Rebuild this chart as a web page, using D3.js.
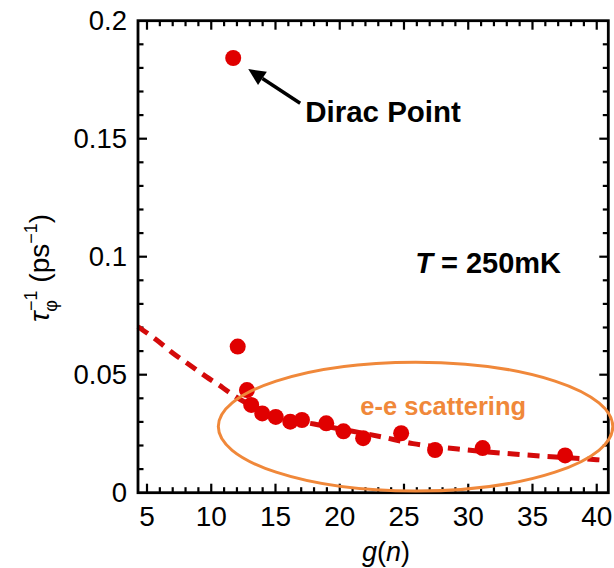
<!DOCTYPE html>
<html>
<head>
<meta charset="utf-8">
<script src="https://cdn.jsdelivr.net/npm/d3@7"></script>
<style>
    body { margin: 0; background: #fff; }
    svg { display: block; font-family: "Liberation Sans", Arial, sans-serif; }
</style>
</head>
<body>
<svg id="chart" width="614" height="568"></svg>
<script>
// measured points: g(n) and dephasing rate (ps^-1)
const gValues = [11.71, 12.06, 12.78, 13.11, 13.97, 15.02, 16.15, 17.06, 18.95, 20.29, 21.82, 24.78, 27.42, 31.12, 37.54];
const rateValues = [0.1842, 0.0619, 0.0435, 0.0372, 0.0336, 0.0321, 0.0301, 0.0308, 0.0294, 0.0260, 0.0231, 0.0252, 0.0181, 0.0189, 0.0158];

// fitted curve
const fitG = [4.3, 5.75, 7.05, 8.35, 9.6, 10.9, 11.8, 13, 14, 15, 16, 17, 18, 20, 22, 23.3, 25.7, 29.2, 33.5, 35.8, 40, 40.9];
const fitRate = [0.0703, 0.0647, 0.0590, 0.0540, 0.0492, 0.0445, 0.0410, 0.0372, 0.0345, 0.0325, 0.0310, 0.0300, 0.0291, 0.0270, 0.0250, 0.0236, 0.0208, 0.0185, 0.0164, 0.0155, 0.0140, 0.0136];

const xTickLabels = [5, 10, 15, 20, 25, 30, 35, 40];
const yTickLabels = [0, 0.05, 0.1, 0.15, 0.2];

const width = 614, height = 568;
const margin = {top: 20.7, right: 5.7, bottom: 75.3, left: 138};

const svg = d3.select('#chart');

const x = d3.scaleLinear()
    .domain([4.3, 40.9])
    .range([margin.left, width - margin.right]);

const y = d3.scaleLinear()
    .domain([0, 0.2])
    .range([height - margin.bottom, margin.top]);

const red = "#e00000";
const orange = "#f0883a";

// ticks: minor every 1 / 0.01, major every 5 / 0.05, all pointing inward
const xMinor = d3.range(5, 41, 1).filter(d => d % 5 !== 0);
const yMinor = d3.range(0.01, 0.2, 0.01).filter(d => Math.abs(d * 20 - Math.round(d * 20)) > 1e-6);

function drawTicks(g, scale, values, len, side) {
    g.selectAll(null)
        .data(values)
        .enter()
        .append('line')
        .attr('stroke', '#000')
        .attr('stroke-width', 2.2)
        .each(function (d) {
            let sel = d3.select(this);
            let p = scale(d);
            if (side === 'bottom') {
                sel.attr('x1', p).attr('x2', p).attr('y1', y.range()[0]).attr('y2', y.range()[0] - len);
            } else if (side === 'top') {
                sel.attr('x1', p).attr('x2', p).attr('y1', y.range()[1]).attr('y2', y.range()[1] + len);
            } else if (side === 'left') {
                sel.attr('y1', p).attr('y2', p).attr('x1', x.range()[0]).attr('x2', x.range()[0] + len);
            } else {
                sel.attr('y1', p).attr('y2', p).attr('x1', x.range()[1]).attr('x2', x.range()[1] - len);
            }
        });
}

let tickGroup = svg.append('g').attr('class', 'ticks');
['bottom', 'top'].forEach(side => {
    drawTicks(tickGroup, x, xMinor, 5.5, side);
    drawTicks(tickGroup, x, xTickLabels, 9, side);
});
['left', 'right'].forEach(side => {
    drawTicks(tickGroup, y, yMinor, 5.5, side);
    drawTicks(tickGroup, y, yTickLabels.filter(d => d > 0 && d < 0.2), 9, side);
});

// tick labels
svg.append('g')
    .selectAll('text')
    .data(xTickLabels)
    .enter()
    .append('text')
    .attr('x', d => x(d))
    .attr('y', y(0) + 33)
    .attr('text-anchor', 'middle')
    .attr('font-size', 28)
    .text(d => d);

svg.append('g')
    .selectAll('text')
    .data(yTickLabels)
    .enter()
    .append('text')
    .attr('x', margin.left - 11)
    .attr('y', d => y(d))
    .attr('dy', '0.35em')
    .attr('text-anchor', 'end')
    .attr('font-size', 27.5)
    .text(d => d);

// dashed fit
const fitLine = d3.line()
    .x(d => x(d[0]))
    .y(d => y(d[1]))
    .curve(d3.curveMonotoneX);

svg.append('path')
    .datum(d3.zip(fitG, fitRate))
    .attr('d', fitLine)
    .attr('fill', 'none')
    .attr('stroke', '#d40a0a')
    .attr('stroke-width', 5)
    .attr('stroke-dasharray', '12 8');

// data points
svg.append('g')
    .selectAll('circle')
    .data(d3.zip(gValues, rateValues))
    .enter()
    .append('circle')
    .attr('cx', d => x(d[0]))
    .attr('cy', d => y(d[1]))
    .attr('r', 8)
    .attr('fill', red);

// frame
svg.append('rect')
    .attr('x', margin.left)
    .attr('y', margin.top)
    .attr('width', width - margin.left - margin.right)
    .attr('height', height - margin.top - margin.bottom)
    .attr('fill', 'none')
    .attr('stroke', '#000')
    .attr('stroke-width', 2.8);

// e-e scattering ellipse
svg.append('ellipse')
    .attr('cx', x(25.9))
    .attr('cy', y(0.028))
    .attr('rx', x(25.9 + 15.35) - x(25.9))
    .attr('ry', y(0) - y(0.0273))
    .attr('fill', 'none')
    .attr('stroke', orange)
    .attr('stroke-width', 3);

svg.append('text')
    .attr('x', x(21.6))
    .attr('y', y(0.0329))
    .attr('font-size', 25.5)
    .attr('font-weight', 'bold')
    .attr('fill', orange)
    .text('e-e scattering');

// Dirac point annotation
const arrowTail = [16.92, 0.165], arrowTip = [12.88, 0.1795];
let ax1 = x(arrowTail[0]), ay1 = y(arrowTail[1]);
let ax2 = x(arrowTip[0]), ay2 = y(arrowTip[1]);
let ang = Math.atan2(ay2 - ay1, ax2 - ax1);
let headLen = 17, headW = 8;
let bx = ax2 - headLen * Math.cos(ang), by = ay2 - headLen * Math.sin(ang);

svg.append('line')
    .attr('x1', ax1).attr('y1', ay1)
    .attr('x2', bx).attr('y2', by)
    .attr('stroke', '#000')
    .attr('stroke-width', 3.5);

svg.append('polygon')
    .attr('points', [
        [ax2, ay2],
        [bx + headW * Math.sin(ang), by - headW * Math.cos(ang)],
        [bx - headW * Math.sin(ang), by + headW * Math.cos(ang)]
    ].map(p => p.join(',')).join(' '))
    .attr('fill', '#000');

svg.append('text')
    .attr('x', x(17.31))
    .attr('y', y(0.1569))
    .attr('font-size', 29.5)
    .attr('font-weight', 'bold')
    .text('Dirac Point');

// temperature label
let tLabel = svg.append('text')
    .attr('x', x(25.87))
    .attr('y', y(0.093))
    .attr('font-size', 29)
    .attr('font-weight', 'bold');
tLabel.append('tspan').attr('font-style', 'italic').text('T');
tLabel.append('tspan').text(' = 250mK');

// axis titles
let xTitle = svg.append('text')
    .attr('x', 386)
    .attr('y', 561)
    .attr('text-anchor', 'middle')
    .attr('font-size', 27);
xTitle.append('tspan').attr('font-style', 'italic').text('g');
xTitle.append('tspan').text('(');
xTitle.append('tspan').attr('font-style', 'italic').text('n');
xTitle.append('tspan').text(')');

let yTitle = svg.append('text')
    .attr('transform', 'translate(49,268) rotate(-90)')
    .attr('text-anchor', 'middle')
    .attr('font-size', 28);
yTitle.append('tspan').attr('font-style', 'italic').text('τ');
yTitle.append('tspan').attr('font-size', 18).attr('dy', 8).text('φ');
yTitle.append('tspan').attr('font-size', 18).attr('dx', -11).attr('dy', -20).text('−1');
yTitle.append('tspan').attr('dy', 12).text(' (ps');
yTitle.append('tspan').attr('font-size', 18).attr('dy', -12).text('−1');
yTitle.append('tspan').attr('dy', 12).text(')');
</script>
</body>
</html>
